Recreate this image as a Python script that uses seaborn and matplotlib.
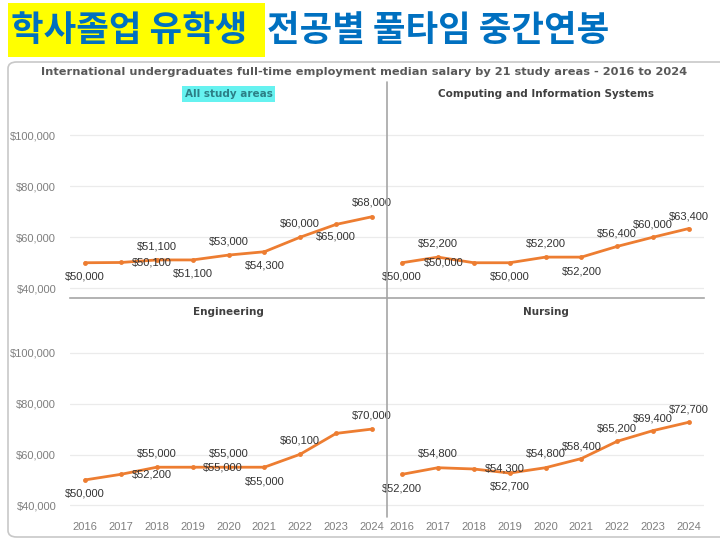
import matplotlib
matplotlib.use('Agg')
import matplotlib.pyplot as plt
import seaborn as sns
import pandas as pd
import numpy as np
from matplotlib.patches import FancyBboxPatch, Rectangle
from matplotlib.lines import Line2D
from matplotlib.ticker import FuncFormatter

sns.set_style('white')
plt.rcParams['font.family'] = ['Liberation Sans', 'DejaVu Sans']
plt.rcParams['axes.unicode_minus'] = False

years = [2016, 2017, 2018, 2019, 2020, 2021, 2022, 2023, 2024]
areas = ['All study areas', 'Computing and Information Systems', 'Engineering', 'Nursing']
all_areas = [50000, 50100, 51100, 51100, 53000, 54300, 60000, 65000, 68000]
computing = [50000, 52200, 50000, 50000, 52200, 52200, 56400, 60000, 63400]
engineering = [50000, 52200, 55000, 55000, 55000, 55000, 60100, 68300, 70000]
nursing = [52200, 54800, 54300, 52700, 54800, 58400, 65200, 69400, 72700]
yticks = [40000, 60000, 80000, 100000]

# which points carry a data label (engineering 2023 has none in the source)
shown = {
    'All study areas': [1, 1, 1, 1, 1, 1, 1, 1, 1],
    'Computing and Information Systems': [1, 1, 1, 1, 1, 1, 1, 1, 1],
    'Engineering': [1, 1, 1, 1, 1, 1, 1, 0, 1],
    'Nursing': [1, 1, 1, 1, 1, 1, 1, 1, 1],
}
# label offsets in points (dx, dy)
offsets = {
    'All study areas': [(0, -10), (22, 0), (0, 10), (0, -10), (0, 10), (0, -10), (0, 10), (0, -9), (0, 10)],
    'Computing and Information Systems': [(0, -10), (0, 10), (-22, 0), (0, -10), (0, 10), (0, -10), (0, 9), (0, 9), (0, 9)],
    'Engineering': [(0, -10), (22, 0), (0, 10), (22, 0), (0, 10), (0, -10), (0, 10), (0, 0), (0, 10)],
    'Nursing': [(0, -10), (0, 10), (22, 0), (0, -10), (0, 10), (0, 9), (0, 9), (0, 9), (0, 9)],
}

df = pd.DataFrame({
    'year': years * 4,
    'area': np.repeat(areas, len(years)),
    'salary': all_areas + computing + engineering + nursing,
})

orange = '#ED7D31'
fig = plt.figure(figsize=(7.2, 5.4), dpi=100)

# frame
fig.add_artist(FancyBboxPatch((8 / 720, 3 / 540), 730 / 720, 475 / 540,
                              boxstyle='round,pad=0,rounding_size=0.012',
                              transform=fig.transFigure, fill=False,
                              edgecolor='#c8c8c8', linewidth=1.2))

# korean title with yellow highlight
fig.add_artist(Rectangle((8 / 720, 1 - 57 / 540), 257 / 720, 54 / 540,
                         transform=fig.transFigure, facecolor='#FFFF00', edgecolor='none'))
fig.text(11 / 720, 1 - 30 / 540, '학사졸업 유학생', fontsize=25.5, fontweight='bold',
         color='#0070C0', va='center', ha='left',
         family=['Noto Sans CJK KR', 'DejaVu Sans'])
fig.text(267 / 720, 1 - 30 / 540, '전공별 풀타임 중간연봉', fontsize=25.5, fontweight='bold',
         color='#0070C0', va='center', ha='left',
         family=['Noto Sans CJK KR', 'DejaVu Sans'])

fig.text(0.505, 1 - 72 / 540,
         'International undergraduates full-time employment median salary by 21 study areas - 2016 to 2024',
         fontsize=8.2, fontweight='bold', color='#595959', ha='center', va='center',
         family=['DejaVu Sans'])

positions = [
    (70 / 720, 1 - 298 / 540, 317 / 720, 198 / 540),
    (387 / 720, 1 - 298 / 540, 317 / 720, 198 / 540),
    (70 / 720, 1 - 515 / 540, 317 / 720, 197 / 540),
    (387 / 720, 1 - 515 / 540, 317 / 720, 197 / 540),
]

for i, (area, pos) in enumerate(zip(areas, positions)):
    ax = fig.add_axes(pos)
    ax.set_facecolor('none')
    sub = df[df['area'] == area]
    sns.lineplot(data=sub, x='year', y='salary', ax=ax, color=orange, linewidth=2,
                 marker='o', markersize=3.5, markeredgewidth=0)
    ax.set_xlim(2015.58, 2024.42)
    ax.set_ylim(36200, 113700)
    ax.set_yticks(yticks)
    ax.set_xticks(years)
    ax.yaxis.grid(True, color='#ebebeb', linewidth=0.9)
    ax.set_xlabel('')
    ax.set_ylabel('')
    for s in ax.spines.values():
        s.set_visible(False)
    if i < 2:
        ax.spines['bottom'].set_visible(True)
        ax.spines['bottom'].set_color('#a6a6a6')
        ax.spines['bottom'].set_linewidth(1.2)
        ax.tick_params(axis='x', labelbottom=False, length=0)
    else:
        ax.tick_params(axis='x', labelsize=8, colors='#7f7f7f', length=0, pad=5)
    if i % 2 == 0:
        ax.yaxis.set_major_formatter(FuncFormatter(lambda v, p: f'${v:,.0f}'))
        ax.tick_params(axis='y', labelsize=8, colors='#7f7f7f', length=0, pad=10)
    else:
        ax.tick_params(axis='y', labelleft=False, length=0)

    for (x, y), show, (dx, dy) in zip(zip(sub['year'], sub['salary']), shown[area], offsets[area]):
        if show:
            ax.annotate(f'${y:,.0f}', (x, y), xytext=(dx, dy), textcoords='offset points',
                        ha='center', va='center', fontsize=8, color='#333333',
                        annotation_clip=False, zorder=5)

    if area == 'All study areas':
        ax.set_title(area, fontsize=7.5, fontweight='bold', color='#2c7f86', pad=2,
                     family=['DejaVu Sans'],
                     bbox=dict(facecolor='#66F2F0', edgecolor='none', pad=2))
    else:
        ax.set_title(area, fontsize=7.5, fontweight='bold', color='#404040', pad=2,
                     family=['DejaVu Sans'])

# vertical divider
fig.add_artist(Line2D([387 / 720, 387 / 720], [1 - 82 / 540, 1 - 517 / 540],
                      transform=fig.transFigure, color='#a6a6a6', linewidth=1.2))

fig.savefig('out.png', dpi=100)
